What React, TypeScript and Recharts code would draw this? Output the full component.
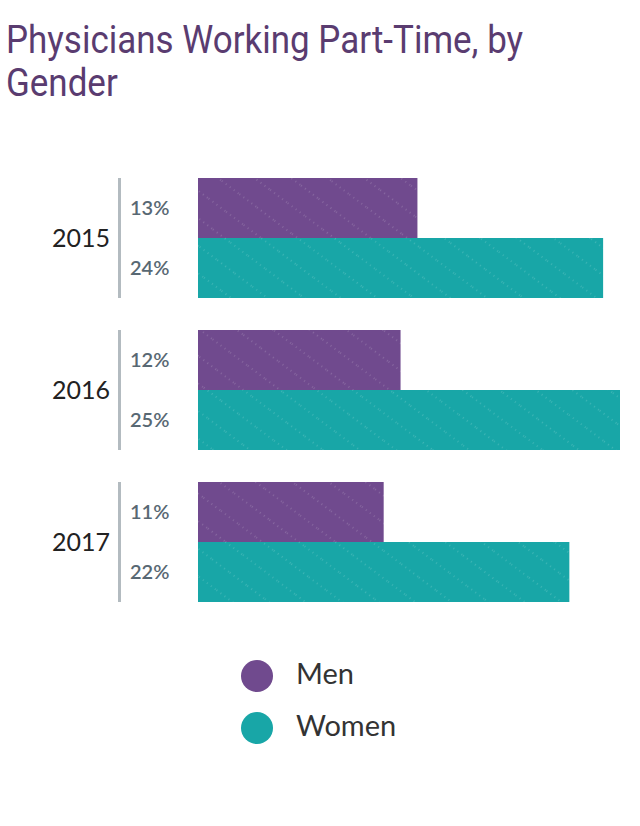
import React from "react";
import { BarChart, Bar, XAxis, YAxis, LabelList } from "recharts";

const years = ["2015", "2016", "2017"];
const men = [13, 12, 11];
const women = [24, 25, 22];

const MEN_COLOR = "#704a8e";
const WOMEN_COLOR = "#18a6a7";

const data = years.map((year, i) => ({ year, men: men[i], women: women[i] }));

function YearTick(props: any) {
  const { y, payload } = props;
  return (
    <g>
      <text
        x={110}
        y={y}
        dy={9}
        textAnchor="end"
        fill="#222"
        style={{ fontFamily: "Lato", fontSize: 25 }}
      >
        {payload.value}
      </text>
      <line x1={119.5} x2={119.5} y1={y - 60} y2={y + 60} stroke="#b3bbc0" strokeWidth={3} />
    </g>
  );
}

function PctLabel(props: any) {
  const { x, y, height, value } = props;
  return (
    <text
      x={x - 68}
      y={y + height / 2}
      dy={7}
      fill="#586873"
      style={{ fontFamily: "Lato", fontSize: 20, fontWeight: 600 }}
    >
      {value}%
    </text>
  );
}

function Pattern({ id, color }: { id: string; color: string }) {
  return (
    <pattern id={id} width={22} height={22} patternUnits="userSpaceOnUse" patternTransform="rotate(37)">
      <rect width={22} height={22} fill={color} />
      <line x1={0} y1={11} x2={22} y2={11} stroke="#ffffff" strokeOpacity={0.3} strokeWidth={1} strokeDasharray="1 4" />
    </pattern>
  );
}

export default function App() {
  return (
    <div style={{ position: "absolute", left: 0, top: 0, width: 640, height: 826, background: "#fff" }}>
      <div
        style={{
          position: "absolute",
          left: 6,
          top: 19,
          fontFamily: "Roboto",
          fontSize: 38,
          lineHeight: "43px",
          color: "#5a3c70",
          whiteSpace: "nowrap",
          transform: "scaleX(0.92)",
          transformOrigin: "left top",
        }}
      >
        Physicians Working Part-Time, by
        <br />
        Gender
      </div>

      <div style={{ position: "absolute", left: 0, top: 0 }}>
        <BarChart
          width={640}
          height={640}
          data={data}
          layout="vertical"
          margin={{ top: 162, right: 20, bottom: 22, left: 0 }}
          barCategoryGap={16}
          barGap={0}
        >
          <defs>
            <Pattern id="men-pat" color={MEN_COLOR} />
            <Pattern id="women-pat" color={WOMEN_COLOR} />
          </defs>
          <XAxis type="number" domain={[0, 25]} hide />
          <YAxis
            type="category"
            dataKey="year"
            width={198}
            axisLine={false}
            tickLine={false}
            tick={<YearTick />}
          />
          <Bar dataKey="men" fill="url(#men-pat)" isAnimationActive={false}>
            <LabelList dataKey="men" content={<PctLabel />} />
          </Bar>
          <Bar dataKey="women" fill="url(#women-pat)" isAnimationActive={false}>
            <LabelList dataKey="women" content={<PctLabel />} />
          </Bar>
        </BarChart>
      </div>

      {[
        { name: "Men", color: MEN_COLOR, y: 676 },
        { name: "Women", color: WOMEN_COLOR, y: 728 },
      ].map((item) => (
        <div key={item.name}>
          <div
            style={{
              position: "absolute",
              left: 241,
              top: item.y - 16,
              width: 32,
              height: 32,
              borderRadius: "50%",
              background: item.color,
            }}
          />
          <div
            style={{
              position: "absolute",
              left: 296,
              top: item.y - 21,
              fontFamily: "Lato",
              fontSize: 29,
              lineHeight: "36px",
              color: "#333",
            }}
          >
            {item.name}
          </div>
        </div>
      ))}
    </div>
  );
}
